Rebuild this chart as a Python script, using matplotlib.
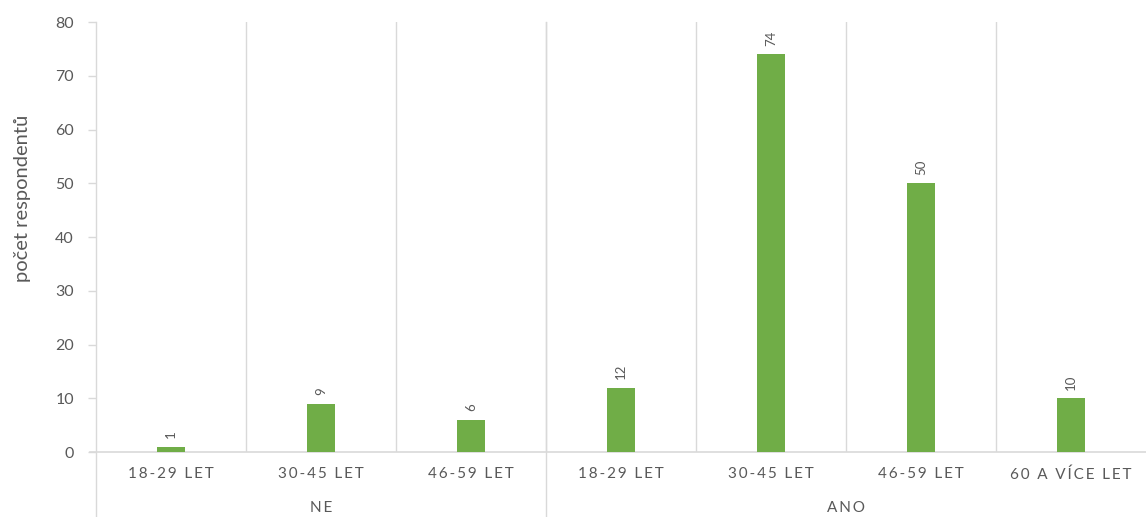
import matplotlib.pyplot as plt
from matplotlib.lines import Line2D

# survey answers split by group and age bracket
groups = ["NE", "ANO"]
ne_ages = ["18-29 LET", "30-45 LET", "46-59 LET"]
ano_ages = ["18-29 LET", "30-45 LET", "46-59 LET", "60 A VÍCE LET"]
ne_counts = [1, 9, 6]
ano_counts = [12, 74, 50, 10]

ages = ne_ages + ano_ages
counts = ne_counts + ano_counts

bar_col = "#70AD47"
txt_col = "#595959"
line_col = "#D9D9D9"

plt.rcParams['font.family'] = ['Lato', 'DejaVu Sans']


def spaced(s):
    # mimic letter spacing of the category text
    return "\u2009".join(s)


fig = plt.figure(figsize=(11.46, 5.17), dpi=100)
ax = fig.add_axes([0.0838, 0.1257, 0.9162, 0.8317])

x = list(range(len(ages)))
ax.bar(x, counts, width=0.187, color=bar_col, zorder=3)

for xi, v in zip(x, counts):
    ax.annotate(str(v), (xi, v), xytext=(0, 6), textcoords="offset points",
                rotation=90, ha="center", va="bottom", fontsize=9.5, color=txt_col)

ax.set_xlim(-0.5, len(ages) - 0.5)
ax.set_ylim(0, 80)
ax.set_yticks(range(0, 81, 10))
ax.tick_params(axis="y", colors=line_col, labelcolor=txt_col, labelsize=11.5,
               length=6, width=1, pad=10)
ax.set_xticks([])

for side in ["top", "right", "bottom", "left"]:
    ax.spines[side].set_visible(False)

# category dividers inside the plot area
for b in range(1, len(ages)):
    ax.axvline(b - 0.5, color=line_col, lw=1, zorder=1)

# baseline, slightly extended to the left like a tick
ax.add_line(Line2D([-0.54, len(ages) - 0.5], [0, 0], color=line_col, lw=1.2,
                   clip_on=False, zorder=2))

# left axis line and group divider reach down through the label rows
tr = ax.get_xaxis_transform()
for xb in [-0.5, len(ne_ages) - 0.5]:
    ax.add_line(Line2D([xb, xb], [-0.16, 1], transform=tr, color=line_col,
                       lw=1, clip_on=False, zorder=1))

for xi, lab in zip(x, ages):
    ax.text(xi, -0.052, spaced(lab), transform=tr, ha="center", va="center",
            fontsize=11, color=txt_col)

ne_mid = (len(ne_ages) - 1) / 2
ano_mid = len(ne_ages) + (len(ano_ages) - 1) / 2
for xm, g in zip([ne_mid, ano_mid], groups):
    ax.text(xm, -0.13, spaced(g), transform=tr, ha="center", va="center",
            fontsize=11, color=txt_col)

ax.set_ylabel("počet respondentů", fontsize=14.5, color=txt_col)
ax.yaxis.set_label_coords(-0.062, 0.59)

fig.savefig("out.png", dpi=100)
